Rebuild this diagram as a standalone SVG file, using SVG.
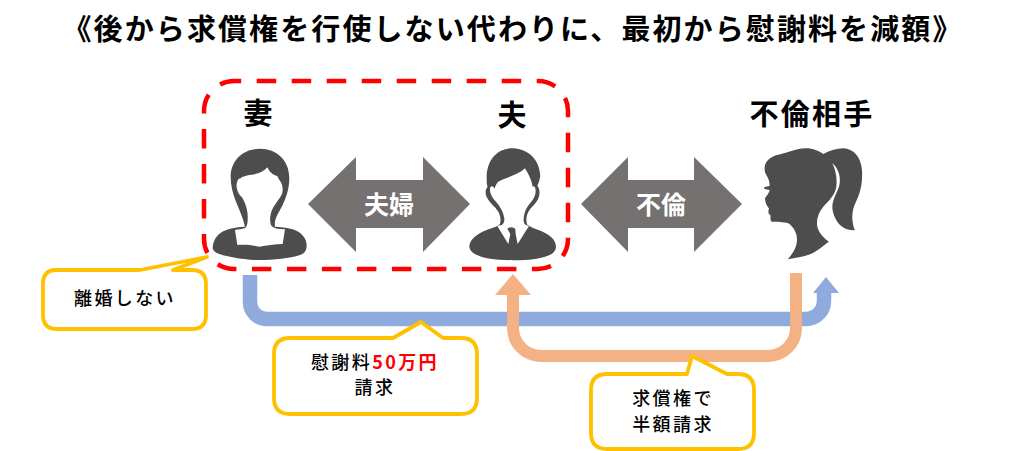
<svg xmlns="http://www.w3.org/2000/svg" width="1024" height="451" viewBox="0 0 1024 451">
<style>
text{font-family:"Noto Sans CJK JP","Noto Sans",sans-serif;fill:#000;text-anchor:middle}
.t{font-size:29px;font-weight:700;letter-spacing:2.1px}
.l{font-size:29px;font-weight:700;letter-spacing:2.2px}
.w{font-size:25px;font-weight:700;fill:#fff}
.c{font-size:18px;font-weight:500;letter-spacing:2.4px}
.p{fill:#4d4d4d}
.a{fill:#767171}
.b{fill:#fff;stroke:#ffc000;stroke-width:3.8;stroke-linejoin:round}
</style>
<rect width="1024" height="451" fill="#fff"/>
<text id="title" class="t" x="513" y="40">《後から求償権を行使しない代わりに、最初から慰謝料を減額》</text>
<g id="connectors">
<path d="M250 275V302A17 17 0 0 0 267 319H806A18 18 0 0 0 824 301V292" fill="none" stroke="#8faadc" stroke-width="14.5"/>
<path d="M813 293L826 277L839 293Z" fill="#8faadc"/>
<path d="M796 273V328A28 28 0 0 1 768 356H541A28 28 0 0 1 513 328V294" fill="none" stroke="#f4b183" stroke-width="12"/>
<path d="M495 295L513 274L531 295Z" fill="#f4b183"/>
</g>
<rect id="group-box" x="204" y="81" width="364" height="188" rx="30" fill="none" stroke="#f00" stroke-width="4.5" stroke-dasharray="19.5 15.5" stroke-dashoffset="12.3"/>
<g id="arrow-fufu">
<path class="a" d="M308 204L356 157V180H423V157L470 204L423 252V228H356V252Z"/>
<text class="w" x="389" y="214">夫婦</text>
</g>
<g id="arrow-furin">
<path class="a" d="M581 204L628 157V180H694V157L742 204L694 252V228H628V252Z"/>
<text class="w" x="661" y="214">不倫</text>
</g>
<g id="wife">
<text class="l" x="259" y="124">妻</text>
<g transform="translate(190 70) scale(.3333)">
<path class="p" d="M210 236C160 236 122 270 122 320C122 345 128 370 138 395C148 420 160 445 165 470C130 472 100 478 84 495C72 508 68 522 68 535C70 548 90 555 120 560C160 568 190 570 210 570C250 570 300 565 330 555C345 550 350 540 350 525C350 510 340 495 325 485C310 476 290 472 255 470C252 450 262 435 270 420C285 395 298 360 298 325C298 270 260 236 210 236Z"/>
<path d="M232 292C222 305 205 312 185 314C170 315 155 320 150 326C145 322 138 340 140 352C142 366 148 376 156 382C164 395 172 415 173 435C174 455 172 470 165 474C155 478 145 478 135 480L142 525C165 523 190 526 208 530C230 526 255 523 278 522L285 478C265 478 248 475 243 465C238 450 240 430 250 412C258 398 270 385 276 372C280 360 278 345 272 335C268 330 265 325 262 318C248 315 238 305 232 292Z" fill="#fff"/>
</g>
</g>
<g id="husband">
<text class="l" x="513" y="126">夫</text>
<g transform="translate(190 70) scale(.3333)">
<path class="p" d="M965 235C925 235 892 265 890 320C890 335 890 345 893 350C885 358 885 372 892 385C900 400 915 410 925 425C932 438 933 448 930 462C920 472 905 474 890 480C860 492 838 510 838 530C840 550 870 562 900 566C935 572 1000 572 1040 566C1075 560 1098 550 1098 530C1098 510 1080 495 1055 484C1040 477 1025 474 1012 464C1006 450 1010 432 1020 418C1030 405 1045 395 1048 375C1050 362 1047 352 1042 347C1048 335 1052 322 1050 310C1046 265 1010 235 965 235Z"/>
<path d="M1005 295C985 315 950 322 925 335C918 342 915 350 914 356C908 345 900 348 900 358C900 372 908 385 918 395C930 408 940 425 943 445C944 456 940 462 935 465L922 468L955 522L961 492L952 476C960 470 968 470 976 476L977 492L983 522L1017 468C1005 466 1000 460 1001 448C1002 425 1012 408 1024 395C1032 386 1038 374 1037 360C1036 350 1032 346 1028 350C1026 335 1018 315 1005 295Z" fill="#fff"/>
</g>
</g>
<g id="affair-partner">
<text class="l" x="812" y="125">不倫相手</text>
<g transform="translate(755 140) scale(.3333)">
<path class="p" d="M30 75C35 60 50 48 70 44C100 38 125 26 150 25C172 24 190 32 205 42C225 32 245 25 265 25C295 26 318 50 321 90C323 125 318 155 303 185C293 205 290 225 293 245C294 255 296 263 300 270C285 272 268 268 255 255C240 238 232 218 232 200C232 180 245 160 252 140C258 120 255 90 232 70C242 90 247 115 244 140C240 165 225 178 205 200C190 218 183 240 187 260C192 280 208 295 222 305C200 320 185 335 165 343C145 351 120 354 98 358C112 342 125 325 126 300C127 280 115 260 100 250C85 244 65 247 50 245C44 240 48 232 46 225C38 222 40 212 42 205C36 200 30 185 30 175C36 165 42 160 44 150L28 147L28 141L44 138C44 125 40 115 34 105C28 95 28 85 30 75Z"/>
</g>
</g>
<g id="callout-rikon">
<path class="b" d="M56 270H140L207 257L173 270H192Q206 270 206 284V315Q206 329 192 329H57Q43 329 43 315V284Q43 270 56 270Z"/>
<text class="c" x="125" y="305">離婚しない</text>
</g>
<g id="callout-isharyo">
<path class="b" d="M290 338H393L421 322L443 338H461Q477 338 477 354V398Q477 414 461 414H290Q274 414 274 398V354Q274 338 290 338Z"/>
<text class="c" x="375" y="369"><tspan>慰謝料</tspan><tspan fill="#f00" font-weight="700">50万円</tspan></text>
<text class="c" x="375" y="394">請求</text>
</g>
<g id="callout-kyusho">
<path class="b" d="M607 374H687L692 356L727 374H738Q754 374 754 390V433Q754 449 738 449H607Q591 449 591 433V390Q591 374 607 374Z"/>
<text class="c" x="673" y="405">求償権で</text>
<text class="c" x="673" y="431">半額請求</text>
</g>
</svg>
